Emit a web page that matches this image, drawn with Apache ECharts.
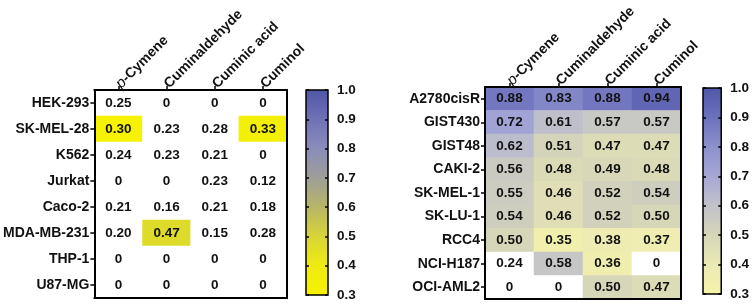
<!DOCTYPE html>
<html>
<head>
<meta charset="utf-8">
<script src="https://cdn.jsdelivr.net/npm/echarts@6/dist/echarts.min.js"></script>
<style>
  html, body { margin: 0; padding: 0; background: #fff; }
  #chart { width: 752px; height: 304px; }
</style>
</head>
<body>
<div id="chart"></div>
<script>
// compounds (columns, shared by both panels)
var compounds = ['p-Cymene', 'Cuminaldehyde', 'Cuminic acid', 'Cuminol'];

// left panel
var leftRows = ['HEK-293', 'SK-MEL-28', 'K562', 'Jurkat', 'Caco-2', 'MDA-MB-231', 'THP-1', 'U87-MG'];
var leftValues = [
  [0.25, 0, 0, 0],
  [0.30, 0.23, 0.28, 0.33],
  [0.24, 0.23, 0.21, 0],
  [0, 0, 0.23, 0.12],
  [0.21, 0.16, 0.21, 0.18],
  [0.20, 0.47, 0.15, 0.28],
  [0, 0, 0, 0],
  [0, 0, 0, 0]
];

// right panel
var rightRows = ['A2780cisR', 'GIST430', 'GIST48', 'CAKI-2', 'SK-MEL-1', 'SK-LU-1', 'RCC4', 'NCI-H187', 'OCI-AML2'];
var rightValues = [
  [0.88, 0.83, 0.88, 0.94],
  [0.72, 0.61, 0.57, 0.57],
  [0.62, 0.51, 0.47, 0.47],
  [0.56, 0.48, 0.49, 0.48],
  [0.55, 0.46, 0.52, 0.54],
  [0.54, 0.46, 0.52, 0.50],
  [0.50, 0.35, 0.38, 0.37],
  [0.24, 0.58, 0.36, 0],
  [0, 0, 0.50, 0.47]
];

// colour scale range + ticks
var scaleMin = 0.3;
var scaleMax = 1.0;
var scaleStep = 0.1;

// palettes, low -> high
var leftColors = ['#f6f200', '#efeb10', '#d8d536', '#b8b666', '#9e9e98', '#8a8cba', '#6e72b6', '#5055a6'];
var rightColors = ['#f6f4a8', '#eceab4', '#d6d6b8', '#c2c2ca', '#a6a8d6', '#8c90cc', '#6c71bc', '#5056a8'];

var FONT = 'Liberation Sans, Arial, sans-serif';

// flatten rows into [col, row, value]
function toCells(values) {
  var out = [];
  values.forEach(function (row, r) {
    row.forEach(function (v, c) { out.push([c, r, v]); });
  });
  return out;
}

function fmt(v) {
  return v === 0 ? '0' : v.toFixed(2);
}

function gradientStops(colors) {
  // top of bar = high value
  return colors.slice().reverse().map(function (c, i) {
    return { offset: i / (colors.length - 1), color: c };
  });
}

var chart = echarts.init(document.getElementById('chart'), null, { renderer: 'canvas' });

// grids: 0 left heatmap, 1 left colorbar, 2 right heatmap, 3 right colorbar
var grids = [
  { left: 92, top: 90, width: 195, height: 208 },
  { left: 306, top: 90, width: 22, height: 205 },
  { left: 485, top: 87, width: 196, height: 212 },
  { left: 703, top: 88, width: 22, height: 206 }
];

var xAxes = [];
var yAxes = [];

function heatAxes(gridIndex, rows) {
  var lineStyle = { color: '#000', width: 2 };
  // top: labelled
  xAxes.push({
    type: 'category', gridIndex: gridIndex, position: 'top', data: compounds, z: 10,
    axisLine: { show: true, lineStyle: lineStyle },
    axisTick: { show: true, alignWithLabel: true, length: 4, lineStyle: { color: '#000', width: 1.5 } },
    axisLabel: {
      rotate: -45, margin: 4, interval: 0, color: '#111', fontFamily: FONT, fontSize: 14, fontWeight: 'bold',
      formatter: function (v) { return v === 'p-Cymene' ? '{i|p}-Cymene' : v; },
      rich: { i: { fontStyle: 'italic', fontWeight: 'normal', fontSize: 15, fontFamily: FONT, color: '#111' } }
    },
    splitLine: { show: false }
  });
  // bottom: only the frame line
  xAxes.push({
    type: 'category', gridIndex: gridIndex, position: 'bottom', data: compounds, z: 10,
    axisLine: { show: true, lineStyle: lineStyle },
    axisTick: { show: false }, axisLabel: { show: false }, splitLine: { show: false }
  });
  yAxes.push({
    type: 'category', gridIndex: gridIndex, position: 'left', data: rows, inverse: true, z: 10,
    axisLine: { show: true, lineStyle: lineStyle },
    axisTick: { show: true, alignWithLabel: true, length: 4, lineStyle: { color: '#000', width: 1.5 } },
    axisLabel: { margin: 5, interval: 0, color: '#111', fontFamily: FONT, fontSize: 14, fontWeight: 'bold' },
    splitLine: { show: false }
  });
  yAxes.push({
    type: 'category', gridIndex: gridIndex, position: 'right', data: rows, inverse: true, z: 10,
    axisLine: { show: true, lineStyle: lineStyle },
    axisTick: { show: false }, axisLabel: { show: false }, splitLine: { show: false }
  });
}

function barAxes(gridIndex) {
  xAxes.push({
    type: 'category', gridIndex: gridIndex, data: ['scale'], show: false
  });
  yAxes.push({
    type: 'value', gridIndex: gridIndex, position: 'right', min: scaleMin, max: scaleMax, interval: scaleStep, z: 10,
    axisLine: { show: false },
    axisTick: { show: true, inside: true, length: 3, lineStyle: { color: '#000', width: 1.5 } },
    axisLabel: {
      margin: 9, color: '#111', fontFamily: FONT, fontSize: 13.5, fontWeight: 'bold',
      formatter: function (v) { return v.toFixed(1); }
    },
    splitLine: { show: false }
  });
  yAxes.push({
    type: 'value', gridIndex: gridIndex, position: 'left', min: scaleMin, max: scaleMax, interval: scaleStep, z: 10,
    axisLine: { show: false },
    axisTick: { show: true, inside: true, length: 3, lineStyle: { color: '#000', width: 1.5 } },
    axisLabel: { show: false },
    splitLine: { show: false }
  });
}

heatAxes(0, leftRows);   // x 0,1  y 0,1
barAxes(1);              // x 2    y 2,3
heatAxes(2, rightRows);  // x 3,4  y 4,5
barAxes(3);              // x 5    y 6,7

function heatSeries(xi, yi, values) {
  return {
    type: 'heatmap',
    xAxisIndex: xi,
    yAxisIndex: yi,
    data: toCells(values),
    label: {
      show: true, color: '#111', fontFamily: FONT, fontSize: 13.5, fontWeight: 'bold',
      formatter: function (p) { return fmt(p.value[2]); }
    },
    itemStyle: { borderWidth: 0 },
    emphasis: { disabled: true }
  };
}

function scaleSeries(xi, yi, colors) {
  return {
    type: 'custom',
    xAxisIndex: xi,
    yAxisIndex: yi,
    data: [[0, scaleMin, scaleMax]],
    renderItem: function (params, api) {
      var top = api.coord([api.value(0), api.value(2)]);
      var bot = api.coord([api.value(0), api.value(1)]);
      var w = api.size([1, 0])[0];
      return {
        type: 'rect',
        shape: { x: top[0] - w / 2, y: top[1], width: w, height: bot[1] - top[1] },
        style: {
          fill: new echarts.graphic.LinearGradient(0, 0, 0, 1, gradientStops(colors)),
          stroke: '#000',
          lineWidth: 1.5
        }
      };
    },
    z: 1
  };
}

// values below scaleMin are left white: the visual extent starts a hair under
// scaleMin so that the selected range really excludes them
function colourMap(seriesIndex, colors) {
  return {
    type: 'continuous', show: false, seriesIndex: seriesIndex, dimension: 2,
    min: scaleMin - 0.001, max: scaleMax,
    range: [scaleMin, scaleMax],
    inRange: { color: colors },
    outOfRange: { color: '#ffffff' }
  };
}

var option = {
  backgroundColor: '#fff',
  animation: false,
  grid: grids,
  xAxis: xAxes,
  yAxis: yAxes,
  visualMap: [
    colourMap(0, leftColors),
    colourMap(2, rightColors)
  ],
  series: [
    heatSeries(0, 0, leftValues),
    scaleSeries(2, 2, leftColors),
    heatSeries(3, 4, rightValues),
    scaleSeries(5, 6, rightColors)
  ]
};

chart.setOption(option);
</script>
</body>
</html>
